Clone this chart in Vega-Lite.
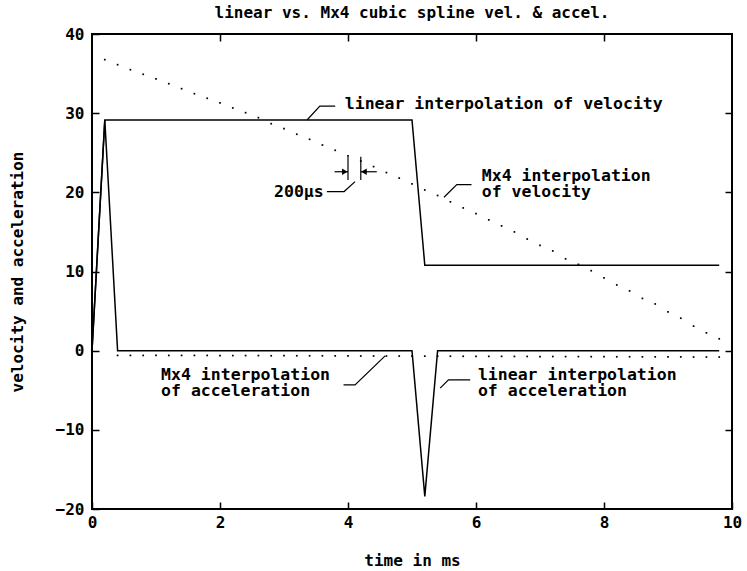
{
  "$schema": "https://vega.github.io/schema/vega-lite/v6.json",
  "autosize": "none",
  "width": 640,
  "height": 475,
  "padding": {"left": 92, "top": 34, "right": 15, "bottom": 62},
  "background": "white",
  "title": {"text": "linear vs. Mx4 cubic spline vel. & accel.", "font": "DejaVu Sans Mono", "fontSize": 16, "fontWeight": "bold", "color": "#000", "anchor": "middle", "offset": 5},
  "datasets": {
    "linvel": [
      {"t": 0, "v": 0}, {"t": 0.2, "v": 29.14}, {"t": 5.0, "v": 29.14}, {"t": 5.2, "v": 10.8}, {"t": 9.8, "v": 10.8}
    ],
    "linacc": [
      {"t": 0, "v": 0}, {"t": 0.2, "v": 29.14}, {"t": 0.4, "v": 0}, {"t": 5.0, "v": 0}, {"t": 5.2, "v": -18.4}, {"t": 5.4, "v": 0}, {"t": 9.8, "v": 0}
    ],
    "mx4vel": [
      {"t": 0.2, "v": 36.76}, {"t": 0.4, "v": 36.12}, {"t": 0.6, "v": 35.49}, {"t": 0.8, "v": 34.91}, {"t": 1.0, "v": 34.32},
      {"t": 1.2, "v": 33.72}, {"t": 1.4, "v": 33.09}, {"t": 1.6, "v": 32.46}, {"t": 1.8, "v": 31.88}, {"t": 2.0, "v": 31.29},
      {"t": 2.2, "v": 30.66}, {"t": 2.4, "v": 30.06}, {"t": 2.6, "v": 29.43}, {"t": 2.8, "v": 28.67}, {"t": 3.0, "v": 28.04},
      {"t": 3.2, "v": 27.34}, {"t": 3.4, "v": 26.7}, {"t": 3.6, "v": 25.98}, {"t": 3.8, "v": 25.31}, {"t": 4.0, "v": 24.6},
      {"t": 4.2, "v": 23.96}, {"t": 4.4, "v": 23.25}, {"t": 4.6, "v": 22.5}, {"t": 4.8, "v": 21.8}, {"t": 5.0, "v": 21.06},
      {"t": 5.2, "v": 20.3}, {"t": 5.4, "v": 19.6}, {"t": 5.6, "v": 18.8}, {"t": 5.8, "v": 18.03}, {"t": 6.0, "v": 17.3},
      {"t": 6.2, "v": 16.52}, {"t": 6.4, "v": 15.76}, {"t": 6.6, "v": 15.0}, {"t": 6.8, "v": 14.1}, {"t": 7.0, "v": 13.3},
      {"t": 7.2, "v": 12.6}, {"t": 7.4, "v": 11.6}, {"t": 7.6, "v": 10.9}, {"t": 7.8, "v": 10.1}, {"t": 8.0, "v": 9.2},
      {"t": 8.2, "v": 8.3}, {"t": 8.4, "v": 7.55}, {"t": 8.6, "v": 6.6}, {"t": 8.8, "v": 5.9}, {"t": 9.0, "v": 4.9},
      {"t": 9.2, "v": 4.1}, {"t": 9.4, "v": 3.1}, {"t": 9.6, "v": 2.25}, {"t": 9.8, "v": 1.5}
    ],
    "mx4acc": [
      {"t": 0.4, "v": -0.6}, {"t": 0.6, "v": -0.6}, {"t": 0.8, "v": -0.6}, {"t": 1.0, "v": -0.6}, {"t": 1.2, "v": -0.6},
      {"t": 1.4, "v": -0.6}, {"t": 1.6, "v": -0.6}, {"t": 1.8, "v": -0.6}, {"t": 2.0, "v": -0.62}, {"t": 2.2, "v": -0.62},
      {"t": 2.4, "v": -0.62}, {"t": 2.6, "v": -0.62}, {"t": 2.8, "v": -0.64}, {"t": 3.0, "v": -0.64}, {"t": 3.2, "v": -0.64},
      {"t": 3.4, "v": -0.65}, {"t": 3.6, "v": -0.65}, {"t": 3.8, "v": -0.66}, {"t": 4.0, "v": -0.66}, {"t": 4.2, "v": -0.67},
      {"t": 4.4, "v": -0.67}, {"t": 4.6, "v": -0.68}, {"t": 4.8, "v": -0.68}, {"t": 5.0, "v": -0.69}, {"t": 5.2, "v": -0.69},
      {"t": 5.4, "v": -0.7}, {"t": 5.6, "v": -0.7}, {"t": 5.8, "v": -0.71}, {"t": 6.0, "v": -0.71}, {"t": 6.2, "v": -0.72},
      {"t": 6.4, "v": -0.72}, {"t": 6.6, "v": -0.73}, {"t": 6.8, "v": -0.73}, {"t": 7.0, "v": -0.74}, {"t": 7.2, "v": -0.74},
      {"t": 7.4, "v": -0.75}, {"t": 7.6, "v": -0.75}, {"t": 7.8, "v": -0.76}, {"t": 8.0, "v": -0.76}, {"t": 8.2, "v": -0.77},
      {"t": 8.4, "v": -0.77}, {"t": 8.6, "v": -0.78}, {"t": 8.8, "v": -0.78}, {"t": 9.0, "v": -0.79}, {"t": 9.2, "v": -0.79},
      {"t": 9.4, "v": -0.8}, {"t": 9.6, "v": -0.8}, {"t": 9.8, "v": -0.8}
    ],
    "leaders": [
      {"id": "A", "o": 1, "t": 3.36, "v": 29.14}, {"id": "A", "o": 2, "t": 3.56, "v": 30.9}, {"id": "A", "o": 3, "t": 3.80, "v": 30.9},
      {"id": "B", "o": 1, "t": 4.11, "v": 21.35}, {"id": "B", "o": 2, "t": 3.94, "v": 20.1}, {"id": "B", "o": 3, "t": 3.67, "v": 20.1},
      {"id": "C", "o": 1, "t": 5.50, "v": 19.38}, {"id": "C", "o": 2, "t": 5.70, "v": 20.97}, {"id": "C", "o": 3, "t": 5.93, "v": 20.97},
      {"id": "D", "o": 1, "t": 4.58, "v": -0.66}, {"id": "D", "o": 2, "t": 4.11, "v": -4.32}, {"id": "D", "o": 3, "t": 3.93, "v": -4.32},
      {"id": "E", "o": 1, "t": 5.44, "v": -4.74}, {"id": "E", "o": 2, "t": 5.57, "v": -3.69}, {"id": "E", "o": 3, "t": 5.91, "v": -3.69},
      {"id": "F", "o": 1, "t": 4.0, "v": 24.5}, {"id": "F", "o": 2, "t": 4.0, "v": 21.57},
      {"id": "G", "o": 1, "t": 4.2, "v": 24.5}, {"id": "G", "o": 2, "t": 4.2, "v": 21.57},
      {"id": "H", "o": 1, "t": 3.79, "v": 22.6}, {"id": "H", "o": 2, "t": 4.0, "v": 22.6},
      {"id": "I", "o": 1, "t": 4.2, "v": 22.6}, {"id": "I", "o": 2, "t": 4.45, "v": 22.6}
    ],
    "arrows": [
      {"t": 3.95, "v": 22.6, "shape": "triangle-right"},
      {"t": 4.25, "v": 22.6, "shape": "triangle-left"}
    ],
    "labelsLeft": [
      {"t": 3.95, "v": 31.2, "text": ["linear interpolation of velocity"]},
      {"t": 6.09, "v": 22.07, "text": ["Mx4 interpolation", "of velocity"]},
      {"t": 1.08, "v": -3.06, "text": ["Mx4 interpolation", "of acceleration"]},
      {"t": 6.03, "v": -3.06, "text": ["linear interpolation", "of acceleration"]}
    ],
    "labelsRight": [
      {"t": 3.62, "v": 20.0, "text": "200μs"}
    ]
  },
  "resolve": {"axis": {"x": "independent", "y": "independent"}},
  "layer": [
    {
      "data": {"name": "linvel"},
      "mark": {"type": "line", "color": "#000", "strokeWidth": 1.5},
      "encoding": {
        "x": {"field": "t", "type": "quantitative", "scale": {"domain": [0, 10], "nice": false, "zero": false},
              "axis": {"orient": "bottom", "values": [0, 2, 4, 6, 8, 10], "title": "time in ms", "titlePadding": 22, "labelPadding": 12}},
        "y": {"field": "v", "type": "quantitative", "scale": {"domain": [-20, 40], "nice": false},
              "axis": {"orient": "left", "values": [-20, -10, 0, 10, 20, 30, 40], "title": "velocity and acceleration", "titlePadding": 30, "labelPadding": 15}}
      }
    },
    {
      "data": {"name": "linacc"},
      "mark": {"type": "line", "color": "#000", "strokeWidth": 1.5},
      "encoding": {
        "x": {"field": "t", "type": "quantitative", "axis": {"orient": "top", "values": [2, 4, 6, 8], "labels": false, "title": null}},
        "y": {"field": "v", "type": "quantitative", "axis": {"orient": "right", "values": [-10, 0, 10, 20, 30], "labels": false, "title": null}}
      }
    },
    {
      "data": {"name": "mx4vel"},
      "mark": {"type": "square", "color": "#000", "size": 3, "filled": true, "opacity": 1},
      "encoding": {
        "x": {"field": "t", "type": "quantitative", "axis": null},
        "y": {"field": "v", "type": "quantitative", "axis": null}
      }
    },
    {
      "data": {"name": "mx4acc"},
      "mark": {"type": "square", "color": "#000", "size": 3, "filled": true, "opacity": 1},
      "encoding": {
        "x": {"field": "t", "type": "quantitative", "axis": null},
        "y": {"field": "v", "type": "quantitative", "axis": null}
      }
    },
    {
      "data": {"name": "leaders"},
      "mark": {"type": "line", "color": "#000", "strokeWidth": 1.2},
      "encoding": {
        "x": {"field": "t", "type": "quantitative", "axis": null},
        "y": {"field": "v", "type": "quantitative", "axis": null},
        "detail": {"field": "id"},
        "order": {"field": "o"}
      }
    },
    {
      "data": {"name": "arrows"},
      "mark": {"type": "point", "color": "#000", "filled": true, "size": 40, "opacity": 1},
      "encoding": {
        "x": {"field": "t", "type": "quantitative", "axis": null},
        "y": {"field": "v", "type": "quantitative", "axis": null},
        "shape": {"field": "shape", "type": "nominal", "scale": null}
      }
    },
    {
      "data": {"name": "labelsLeft"},
      "mark": {"type": "text", "font": "DejaVu Sans Mono", "fontSize": 16.5, "fontWeight": "bold", "color": "#000", "baseline": "middle", "align": "left", "lineHeight": 16},
      "encoding": {
        "x": {"field": "t", "type": "quantitative", "axis": null},
        "y": {"field": "v", "type": "quantitative", "axis": null},
        "text": {"field": "text"}
      }
    },
    {
      "data": {"name": "labelsRight"},
      "mark": {"type": "text", "font": "DejaVu Sans Mono", "fontSize": 16.5, "fontWeight": "bold", "color": "#000", "baseline": "middle", "align": "right"},
      "encoding": {
        "x": {"field": "t", "type": "quantitative", "axis": null},
        "y": {"field": "v", "type": "quantitative", "axis": null},
        "text": {"field": "text"}
      }
    }
  ],
  "config": {
    "view": {"stroke": "#000", "strokeWidth": 2},
    "axis": {
      "domain": false, "grid": false,
      "ticks": true, "tickSize": -7, "tickColor": "#000", "tickWidth": 1.5,
      "labelFont": "DejaVu Sans Mono", "labelFontSize": 16, "labelFontWeight": "bold", "labelColor": "#000",
      "labelPadding": 7, "labelFlush": false, "labelOverlap": false,
      "titleFont": "DejaVu Sans Mono", "titleFontSize": 16, "titleFontWeight": "bold", "titleColor": "#000"
    }
  }
}
